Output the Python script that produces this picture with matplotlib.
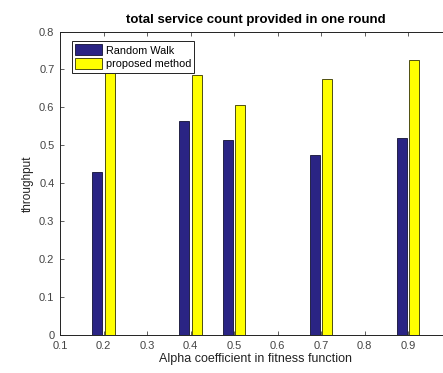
import numpy as np
import matplotlib
matplotlib.use('Agg')
import matplotlib.pyplot as plt

plt.rcParams['font.family'] = ['Liberation Sans', 'DejaVu Sans']

alpha = [0.2, 0.4, 0.5, 0.7, 0.9]
random_walk = [0.43, 0.565, 0.515, 0.475, 0.52]
proposed = [0.71, 0.685, 0.605, 0.675, 0.725]

fig = plt.figure(figsize=(4.43, 3.73), dpi=100)
ax = fig.add_axes([60/443, 38/373, 391.5/443, 303.5/373])

# grouped bars, matlab style spacing
w = 0.023
off = 0.0143
x = np.array(alpha)
ax.bar(x - off, random_walk, w, color='#2a2484', edgecolor='#111133', linewidth=0.6,
       label='Random Walk')
ax.bar(x + off, proposed, w, color='#ffff00', edgecolor='#333300', linewidth=0.6,
       label='proposed method')

ax.set_xlim(0.1, 1.0)
ax.set_ylim(0, 0.8)
ax.set_xticks(np.arange(0.1, 1.01, 0.1))
# last tick (1) falls past the figure edge
ax.set_xticklabels(['0.1', '0.2', '0.3', '0.4', '0.5', '0.6', '0.7', '0.8', '0.9', ''])
ax.set_yticks(np.arange(0, 0.81, 0.1))
ax.set_yticklabels(['0', '0.1', '0.2', '0.3', '0.4', '0.5', '0.6', '0.7', '0.8'])
ax.tick_params(direction='in', top=True, right=True, length=3, width=0.6,
               labelsize=8, colors='#444444', pad=4)
for s in ax.spines.values():
    s.set_linewidth(0.7)
    s.set_color('#222222')

ax.set_title('total service count provided in one round', fontsize=9.5, fontweight='bold',
             pad=6)
ax.set_xlabel('Alpha coefficient in fitness function', fontsize=9, labelpad=2,
              color='#222222')
ax.set_ylabel('throughput', fontsize=8.5, labelpad=4, color='#222222')

leg = ax.legend(loc='upper left', bbox_to_anchor=(0.031, 0.968), fontsize=7.8,
                fancybox=False, framealpha=1, edgecolor='#222222',
                handlelength=2.5, handleheight=1.15, handletextpad=0.3,
                borderpad=0.3, labelspacing=0.25, borderaxespad=0)
leg.get_frame().set_linewidth(0.7)

fig.savefig('out.png', dpi=100)
